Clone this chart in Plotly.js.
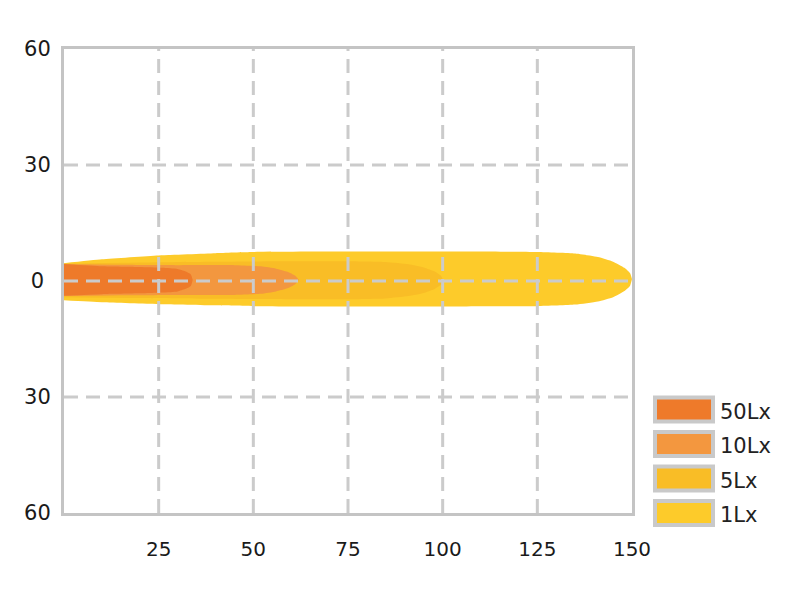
<!DOCTYPE html>
<html>
<head>
<meta charset="utf-8">
<script src="https://cdn.plot.ly/plotly-3.0.1.min.js"></script>
<style>html,body{margin:0;padding:0;background:#fff;}#chart{width:800px;height:600px;}</style>
</head>
<body>
<div id="chart"></div>
<script>
// Isolux contour data: distance (m) and beam edge (m, upper / lower)
const lux1_x   = [0, 10, 25, 40, 50, 75, 100, 125, 135, 141, 145, 148, 149.5, 150];
const lux1_top = [4.6, 5.6, 6.6, 7.2, 7.5, 7.6, 7.6, 7.5, 7.1, 6.2, 5.0, 3.4, 2.0, 0.5];
const lux1_bot = [-5.0, -5.5, -6.0, -6.3, -6.5, -6.6, -6.6, -6.5, -6.1, -5.3, -4.2, -2.6, -1.2, 0.5];

const lux5_x   = [0, 20, 40, 60, 75, 85, 91, 95, 98, 99.5, 100];
const lux5_top = [4.5, 4.8, 5.0, 5.1, 5.1, 4.9, 4.3, 3.5, 2.4, 1.4, 0.5];
const lux5_bot = [-4.2, -4.4, -4.6, -4.7, -4.7, -4.5, -3.9, -3.1, -2.0, -1.0, 0.5];

const lux10_x   = [0, 15, 30, 45, 52, 56, 59, 61, 62];
const lux10_top = [4.4, 4.2, 4.1, 4.1, 3.8, 3.2, 2.4, 1.4, 0.3];
const lux10_bot = [-3.9, -3.7, -3.6, -3.6, -3.3, -2.7, -1.9, -0.9, 0.3];

const lux50_x   = [0, 10, 20, 26, 30, 32, 33.5, 34];
const lux50_top = [4.4, 3.8, 3.6, 3.4, 3.1, 2.5, 1.7, 0.3];
const lux50_bot = [-3.8, -3.4, -3.2, -3.0, -2.7, -2.1, -1.3, 0.3];

const seriesNames  = ['50Lx', '10Lx', '5Lx', '1Lx'];
const seriesColors = ['#ee7a2a', '#f3973f', '#f9bd26', '#fdcb2a'];

const xTickVals = [25, 50, 75, 100, 125, 150];
const xTickText = ['25', '50', '75', '100', '125', '150'];
const yTickVals = [60, 30, 0, -30, -60];
const yTickText = ['60', '30', '0\u2008', '30', '60'];
const xGrid = [25, 50, 75, 100, 125];
const yGrid = [30, 0, -30];

function poly(xs, top, bot) {
  return {
    x: xs.concat(xs.slice().reverse()),
    y: top.concat(bot.slice().reverse())
  };
}
const contours = [
  poly(lux1_x, lux1_top, lux1_bot),
  poly(lux5_x, lux5_top, lux5_bot),
  poly(lux10_x, lux10_top, lux10_bot),
  poly(lux50_x, lux50_top, lux50_bot)
];
const colorOrder = [seriesColors[3], seriesColors[2], seriesColors[1], seriesColors[0]];
const nameOrder = [seriesNames[3], seriesNames[2], seriesNames[1], seriesNames[0]];

const traces = contours.map((c, i) => ({
  type: 'scatter', mode: 'lines', x: c.x, y: c.y,
  fill: 'toself', fillcolor: colorOrder[i],
  line: {width: 0, color: colorOrder[i], shape: 'spline', smoothing: 0.5},
  name: nameOrder[i], hoverinfo: 'name', showlegend: false
}));

const gridStyle = {color: '#cbcbcb', width: 3, dash: '14px,8px'};
const shapes = [];
xGrid.forEach(v => shapes.push({type: 'line', xref: 'x', yref: 'paper', x0: v, x1: v, y0: 0, y1: 1, line: gridStyle, layer: 'above'}));
yGrid.forEach(v => shapes.push({type: 'line', xref: 'paper', yref: 'y', x0: 0, x1: 1, y0: v, y1: v, line: gridStyle, layer: 'above'}));

// legend boxes (drawn as pixel-sized shapes anchored at plot's lower right)
const annotations = [];
seriesNames.forEach((n, i) => {
  const cy = 103.5 - 34.5 * i;
  shapes.push({
    type: 'rect', xref: 'paper', yref: 'paper',
    xsizemode: 'pixel', ysizemode: 'pixel', xanchor: 1, yanchor: 0,
    x0: 23, x1: 81, y0: cy - 12, y1: cy + 12,
    fillcolor: seriesColors[i], line: {color: '#c9c9c9', width: 4}, layer: 'above'
  });
  annotations.push({
    xref: 'paper', yref: 'paper', x: 1, y: 0, xanchor: 'left', yanchor: 'middle',
    xshift: 86, yshift: cy - 2, text: n, showarrow: false,
    font: {family: 'DejaVu Sans', size: 21, color: '#222'}
  });
});

const layout = {
  width: 800, height: 600,
  margin: {l: 64, r: 168, t: 49, b: 87},
  paper_bgcolor: '#ffffff', plot_bgcolor: '#ffffff',
  showlegend: false,
  xaxis: {
    range: [0, 150], tickvals: xTickVals, ticktext: xTickText,
    showgrid: false, zeroline: false,
    showline: true, mirror: true, linecolor: '#c4c4c4', linewidth: 3,
    ticks: 'outside', ticklen: 16, tickcolor: 'rgba(0,0,0,0)',
    tickfont: {family: 'DejaVu Sans', size: 20, color: '#1a1a1a'},
    layer: 'above traces', fixedrange: true
  },
  yaxis: {
    range: [-60, 60], tickvals: yTickVals, ticktext: yTickText,
    showgrid: false, zeroline: false,
    showline: true, mirror: true, linecolor: '#c4c4c4', linewidth: 3,
    ticks: 'outside', ticklen: 6, tickcolor: 'rgba(0,0,0,0)',
    tickfont: {family: 'DejaVu Sans', size: 21, color: '#1a1a1a'},
    layer: 'above traces', fixedrange: true
  },
  shapes: shapes,
  annotations: annotations
};

Plotly.newPlot('chart', traces, layout, {staticPlot: true, displayModeBar: false});
</script>
</body>
</html>
